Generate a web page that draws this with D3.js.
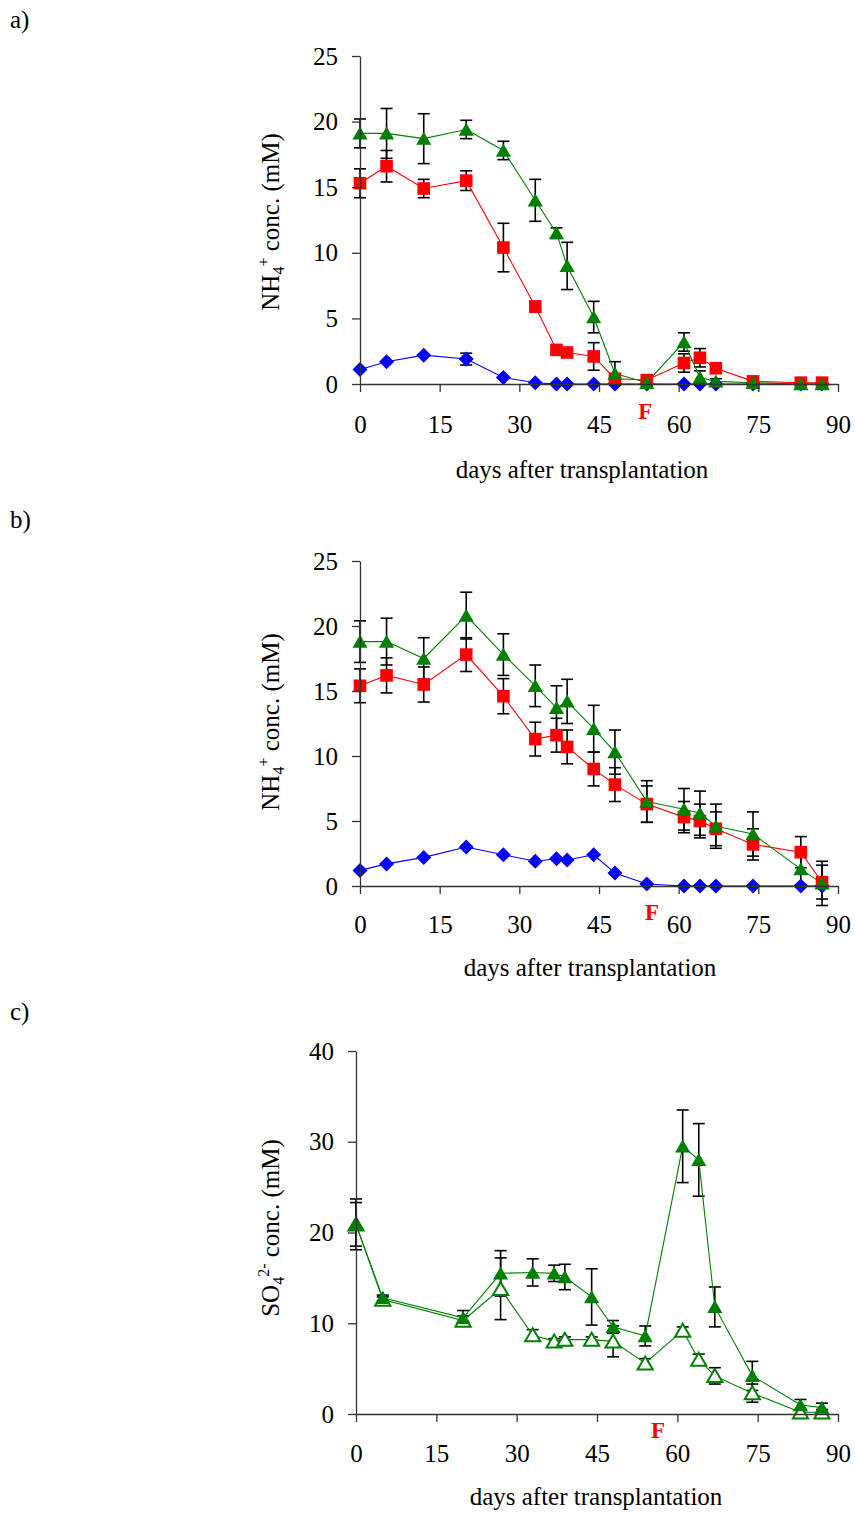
<!DOCTYPE html>
<html><head><meta charset="utf-8">
<script src="https://cdn.jsdelivr.net/npm/d3@7"></script>
<style>
html,body{margin:0;padding:0;background:#fff;}
text{font-family:"Liberation Serif","Times New Roman",serif;}
</style></head>
<body>
<svg id="chart" width="855" height="1513"></svg>
<script>
// ---- data ----
const daysAB = [0,5,12,20,27,33,37,39,44,48,54,61,64,67,74,83,87];
const daysC  = [0,5,20,27,33,37,39,44,48,54,61,64,67,74,83,87];

const aBlue     = [1.1,1.7,2.2,1.9,0.5,0.1,0,0,0,0,0,0,0,0,0,0,0];
const aBlueErr  = [0,0,0,0.45,0,0,0,0,0,0,0,0,0,0,0,0,0];
const aRed      = [15.3,16.6,14.9,15.5,10.4,5.9,2.6,2.4,2.1,0.4,0.3,1.6,2.0,1.2,0.2,0.1,0.1];
const aRedErr   = [1.1,1.2,0.7,0.75,1.85,0.4,0.2,0.2,1.05,0.3,0.1,0.7,0.7,0.3,0.1,0,0];
const aGreen    = [19.1,19.1,18.7,19.4,17.8,14.0,11.5,9.0,5.1,0.8,0.1,3.2,0.5,0.2,0.1,0.0,0.0];
const aGreenErr = [1.1,1.9,1.9,0.7,0.7,1.6,0.4,1.8,1.2,0.9,0.2,0.7,0.5,0.2,0.1,0,0];

const bBlue     = [1.2,1.7,2.2,3.0,2.4,1.9,2.1,2.0,2.4,1.0,0.15,0,0,0,0,0,0];
const bBlueErr  = [0,0,0,0,0,0,0,0,0,0,0,0,0,0,0,0,0];
const bRed      = [15.4,16.2,15.5,17.8,14.6,11.3,11.6,10.7,9.0,7.8,6.3,5.3,5.0,4.4,3.2,2.6,0.3];
const bRedErr   = [1.3,1.35,1.35,1.3,1.35,1.3,1.3,1.3,1.3,1.3,1.4,1.2,1.3,1.3,1.2,1.2,1.3];
const bGreen    = [18.8,18.8,17.5,20.8,17.8,15.4,13.7,14.2,12.1,10.3,6.5,5.9,5.6,4.6,4.0,1.3,0.2];
const bGreenErr = [1.6,1.8,1.6,1.8,1.6,1.6,1.7,1.7,1.8,1.7,1.6,1.6,1.7,1.7,1.7,1.2,1.7];

const cFilled    = [20.9,12.8,10.6,15.5,15.6,15.5,15.1,12.9,9.6,8.6,29.5,28.0,11.8,4.2,1.0,0.7];
const cFilledErr = [2.8,0.3,0.8,2.5,1.5,0.9,1.4,3.1,0.7,1.1,4.0,4.0,2.2,1.6,0.6,0.5];
const cOpen      = [20.9,12.6,10.3,13.8,8.7,8.0,8.2,8.2,8.0,5.6,9.2,6.0,4.2,2.3,0.2,0.2];
const cOpenErr   = [2.4,0.3,0.5,3.4,0.6,0.3,0.3,0.3,1.7,0.5,0.4,0.6,0.9,1.0,0.3,0.3];

const xTicks  = [0,15,30,45,60,75,90];
const yTicksAB = [0,5,10,15,20,25];
const yTicksC  = [0,10,20,30,40];
const panelLabels = ["a)","b)","c)"];
const xLabel = "days after transplantation";
const fDays = [53.7,55.0,56.4];

// ---- drawing ----
const svg = d3.select("#chart");
const FS = 25;

const shapes = {
  square: "M-6.3,-6.3H6.3V6.3H-6.3Z",
  diamond: "M0,-7.5L7.5,0L0,7.5L-7.5,0Z",
  triangle: "M0,-6.8L7.6,6.2L-7.6,6.2Z"
};

function drawPanel(p){
  const g = svg.append("g");
  const x = d3.scaleLinear().domain([0,90]).range([p.x0,p.x1]);
  const y = d3.scaleLinear().domain([0,p.ymax]).range([p.y0,p.y1]);

  p.series.forEach(s=>{
    const pts = s.vals.map((v,i)=>({d:p.days[i],v:v,e:s.err[i]}));
    const eb = g.append("g").attr("stroke","#000").attr("stroke-width",1.6).attr("fill","none");
    pts.filter(d=>d.e>0).forEach(d=>{
      const cx = x(d.d);
      eb.append("line").attr("x1",cx).attr("x2",cx).attr("y1",y(d.v-d.e)).attr("y2",y(d.v+d.e));
      [d.v-d.e,d.v+d.e].forEach(t=>{
        eb.append("line").attr("x1",cx-6).attr("x2",cx+6).attr("y1",y(t)).attr("y2",y(t));
      });
    });
  });
  p.series.forEach(s=>{
    const pts = s.vals.map((v,i)=>({d:p.days[i],v:v}));
    g.append("path").datum(pts)
      .attr("fill","none").attr("stroke",s.color).attr("stroke-width",1.1)
      .attr("d",d3.line().x(d=>x(d.d)).y(d=>y(d.v)));
  });
  p.series.forEach(s=>{
    const pts = s.vals.map((v,i)=>({d:p.days[i],v:v}));
    g.append("g").selectAll("path").data(pts).join("path")
      .attr("d",shapes[s.shape])
      .attr("transform",d=>`translate(${x(d.d)},${y(d.v)})`)
      .attr("fill",s.open?"#fff":s.color)
      .attr("stroke",s.open?s.color:"none")
      .attr("stroke-width",s.open?2:0);
  });

  const xa = g.append("g").attr("transform",`translate(0,${p.y0})`)
    .call(d3.axisBottom(x).tickValues(xTicks).tickSize(8).tickSizeOuter(0).tickPadding(p.xpad));
  const ya = g.append("g").attr("transform",`translate(${p.x0},0)`)
    .call(d3.axisLeft(y).tickValues(p.yticks).tickSize(8).tickSizeOuter(0).tickPadding(14));
  [xa,ya].forEach(a=>{
    a.selectAll("path,line").attr("stroke","#333").attr("stroke-width",1.3);
    a.selectAll("text").attr("font-size",FS).attr("fill","#000")
      .attr("font-family",'"Liberation Serif","Times New Roman",serif');
  });

  g.append("text").attr("x",p.xlabX).attr("y",p.xlabY).attr("text-anchor","middle")
    .attr("font-size",FS).text(xLabel);

  const yl = g.append("text").attr("transform",`translate(${p.ylabX},${p.ylabY}) rotate(-90)`)
    .attr("text-anchor","middle").attr("font-size",FS);
  yl.append("tspan").text(p.ylab[0]);
  yl.append("tspan").attr("font-size",16).attr("dy",5).text(p.ylab[1]);
  yl.append("tspan").attr("font-size",16).attr("dy",-15).text(p.ylab[2]);
  yl.append("tspan").attr("dy",10).text(p.ylab[3]);

  g.append("text").attr("x",x(p.fDay)).attr("y",p.fY).attr("text-anchor","middle")
    .attr("font-size",23).attr("font-weight","bold").attr("fill","#ff0000").text("F");

  g.append("text").attr("x",10).attr("y",p.labY).attr("font-size",FS).text(p.label);
}

drawPanel({
  label:panelLabels[0], labY:28,
  x0:360,x1:838,y0:384,y1:56,ymax:25,yticks:yTicksAB,xpad:23,
  days:daysAB,
  series:[
    {vals:aBlue,err:aBlueErr,color:"#0000ff",shape:"diamond"},
    {vals:aRed,err:aRedErr,color:"#ff0000",shape:"square"},
    {vals:aGreen,err:aGreenErr,color:"#008000",shape:"triangle"}
  ],
  xlabX:582,xlabY:478, ylabX:279,ylabY:222,
  ylab:["NH","4","+"," conc. (mM)"], fDay:fDays[0], fY:419
});
drawPanel({
  label:panelLabels[1], labY:528,
  x0:360,x1:838,y0:886,y1:561,ymax:25,yticks:yTicksAB,xpad:21,
  days:daysAB,
  series:[
    {vals:bBlue,err:bBlueErr,color:"#0000ff",shape:"diamond"},
    {vals:bRed,err:bRedErr,color:"#ff0000",shape:"square"},
    {vals:bGreen,err:bGreenErr,color:"#008000",shape:"triangle"}
  ],
  xlabX:590,xlabY:976, ylabX:279,ylabY:722,
  ylab:["NH","4","+"," conc. (mM)"], fDay:fDays[1], fY:920
});
drawPanel({
  label:panelLabels[2], labY:1020,
  x0:356,x1:838,y0:1414,y1:1051,ymax:40,yticks:yTicksC,xpad:22,
  days:daysC,
  series:[
    {vals:cOpen,err:cOpenErr,color:"#008000",shape:"triangle",open:true},
    {vals:cFilled,err:cFilledErr,color:"#008000",shape:"triangle"}
  ],
  xlabX:596,xlabY:1505, ylabX:279,ylabY:1228,
  ylab:["SO","4","2-"," conc. (mM)"], fDay:fDays[2], fY:1438
});
</script>
</body></html>
